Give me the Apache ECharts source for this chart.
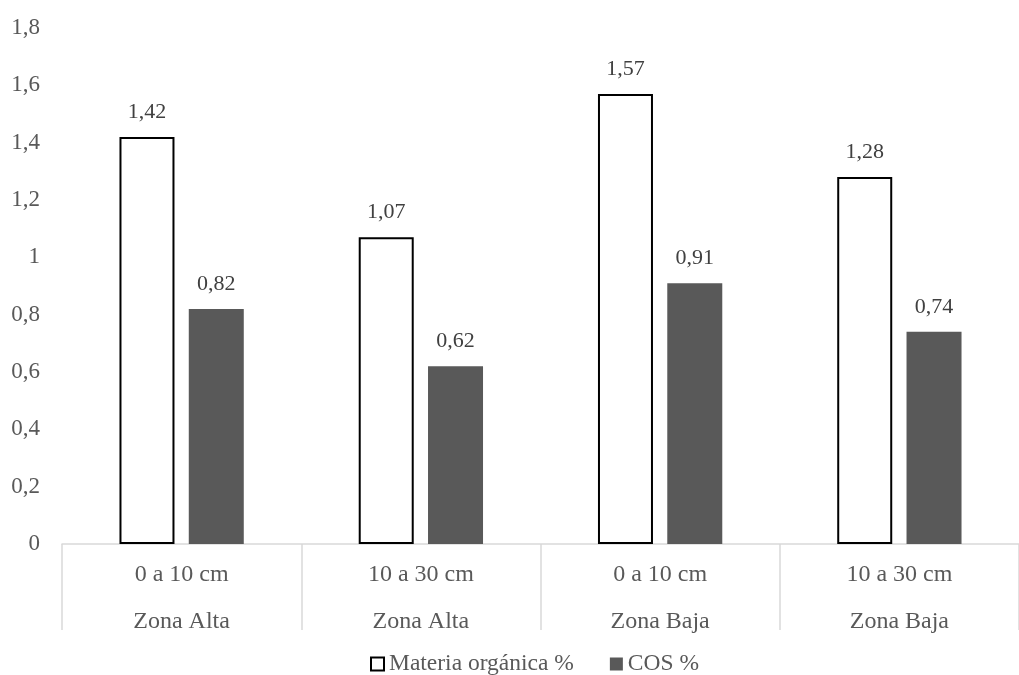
<!DOCTYPE html>
<html>
<head>
<meta charset="utf-8">
<script src="https://cdn.jsdelivr.net/npm/echarts@6/dist/echarts.min.js"></script>
<style>
  html, body { margin: 0; padding: 0; background: #fff; }
  #chart { width: 1019px; height: 675px; }
</style>
</head>
<body>
<div id="chart"></div>
<script>
// Depth / zone categories (two label rows per category)
const depths = ['0 a 10 cm', '10 a 30 cm', '0 a 10 cm', '10 a 30 cm'];
const zones = ['Zona Alta', 'Zona Alta', 'Zona Baja', 'Zona Baja'];
const materiaOrganica = [1.42, 1.07, 1.57, 1.28];
const cos = [0.82, 0.62, 0.91, 0.74];
const seriesNames = ['Materia orgánica %', 'COS %'];

const categories = depths.map((d, i) => d + '\n' + zones[i]);
const fmt = v => String(v).replace('.', ',');
const font = '"Liberation Serif", "Times New Roman", serif';
const textColor = '#595959';

const chart = echarts.init(document.getElementById('chart'), null, { renderer: 'canvas' });
chart.setOption({
  animation: false,
  textStyle: { fontFamily: font },
  grid: { left: 62, top: 28, width: 970, height: 516 },
  legend: {
    top: 652,
    left: 370,
    padding: 0,
    itemWidth: 13,
    itemHeight: 13,
    itemGap: 36,
    icon: 'rect',
    textStyle: { fontFamily: font, fontSize: 23.5, color: textColor },
    data: seriesNames
  },
  xAxis: {
    type: 'category',
    data: categories,
    axisLine: { lineStyle: { color: '#d9d9d9', width: 1.5 } },
    axisTick: { show: true, length: 86, interval: 0, lineStyle: { color: '#d9d9d9', width: 1.5 } },
    axisLabel: {
      interval: 0,
      margin: 7,
      fontFamily: font,
      fontSize: 24,
      color: textColor,
      lineHeight: 47
    }
  },
  yAxis: {
    type: 'value',
    min: 0,
    max: 1.8,
    interval: 0.2,
    axisLine: { show: false },
    axisTick: { show: false },
    splitLine: { show: false },
    axisLabel: {
      margin: 22,
      fontFamily: font,
      fontSize: 23,
      color: textColor,
      formatter: v => fmt(Math.round(v * 10) / 10)
    }
  },
  series: [
    {
      name: seriesNames[0],
      type: 'bar',
      data: materiaOrganica,
      barWidth: 55,
      barGap: '26%',
      itemStyle: { color: '#ffffff', borderColor: '#000000', borderWidth: 2 },
      label: {
        show: true, position: 'top', distance: 14,
        fontFamily: font, fontSize: 22, color: '#404040',
        formatter: p => fmt(p.value)
      }
    },
    {
      name: seriesNames[1],
      type: 'bar',
      data: cos,
      barWidth: 55,
      itemStyle: { color: '#595959' },
      label: {
        show: true, position: 'top', distance: 14,
        fontFamily: font, fontSize: 22, color: '#404040',
        formatter: p => fmt(p.value)
      }
    }
  ]
});
</script>
</body>
</html>
